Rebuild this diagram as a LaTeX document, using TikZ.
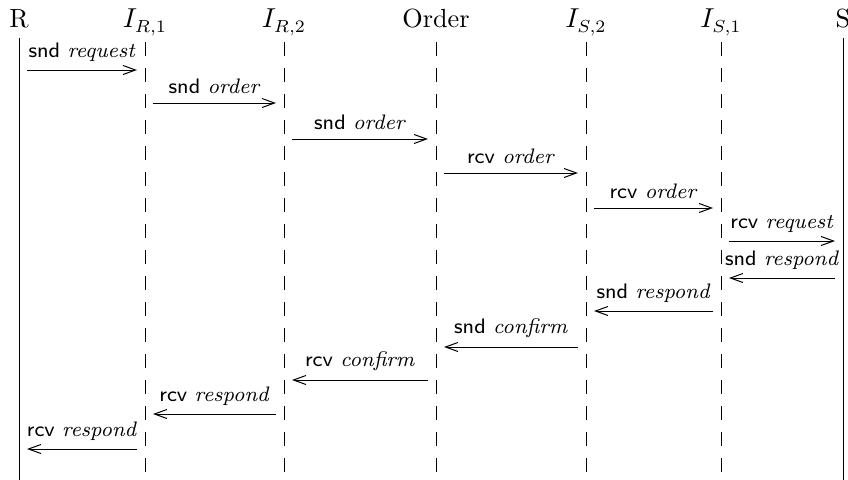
\documentclass[tikz,border=0pt]{standalone}
\usetikzlibrary{arrows.meta}

\begin{document}
\begin{tikzpicture}[
  x=0.4pt,
  y=-0.4pt,
  head/.style={anchor=base, inner sep=0pt, font=\fontsize{10.5}{12}\selectfont},
  solidlife/.style={line width=0.4pt},
  dashlife/.style={line width=0.4pt, dash pattern=on 5.6pt off 4.8pt},
  msg/.style={
    line width=0.4pt,
    -{Straight Barb[length=5pt,width=3.6pt]},
    shorten >=3.2pt,
    shorten <=3.2pt,
  },
  lbl/.style={above, font=\fontsize{8.4}{10}\selectfont},
]
  \useasboundingbox (0,0) rectangle (848,480);

  % Participants
  \node[head] (R)     at (19,28)  {R};
  \node[head] (IR1)   at (145,28) {$I_{R,1}$};
  \node[head] (IR2)   at (284,28) {$I_{R,2}$};
  \node[head] (Order) at (436,28) {Order};
  \node[head] (IS2)   at (586,28) {$I_{S,2}$};
  \node[head] (IS1)   at (721,28) {$I_{S,1}$};
  \node[head] (S)     at (843,28) {S};

  \coordinate (top) at (0,38);
  \coordinate (dtop) at (0,42);
  \coordinate (bot) at (0,480);

  % Lifelines
  \draw[solidlife] (R |- top) -- (R |- bot);
  \draw[solidlife] (S |- top) -- (S |- bot);
  \draw[dashlife] (IR1 |- dtop) -- (IR1 |- bot);
  \draw[dashlife] (IR2 |- dtop) -- (IR2 |- bot);
  \draw[dashlife] (Order |- dtop) -- (Order |- bot);
  \draw[dashlife] (IS2 |- dtop) -- (IS2 |- bot);
  \draw[dashlife] (IS1 |- dtop) -- (IS1 |- bot);

  % Request path
  \draw[msg] (R |- 0,70) -- node[lbl] {\textsf{snd} \textit{request}} (IR1 |- 0,70);
  \draw[msg] (IR1 |- 0,103) -- node[lbl] {\textsf{snd} \textit{order}} (IR2 |- 0,103);
  \draw[msg] (IR2 |- 0,139) -- node[lbl] {\textsf{snd} \textit{order}} (Order |- 0,139);
  \draw[msg] (Order |- 0,173) -- node[lbl] {\textsf{rcv} \textit{order}} (IS2 |- 0,173);
  \draw[msg] (IS2 |- 0,208) -- node[lbl] {\textsf{rcv} \textit{order}} (IS1 |- 0,208);
  \draw[msg] (IS1 |- 0,241) -- node[lbl] {\textsf{rcv} \textit{request}} (S |- 0,241);

  % Response path
  \draw[msg] (S |- 0,278) -- node[lbl] {\textsf{snd} \textit{respond}} (IS1 |- 0,278);
  \draw[msg] (IS1 |- 0,311) -- node[lbl] {\textsf{snd} \textit{respond}} (IS2 |- 0,311);
  \draw[msg] (IS2 |- 0,347) -- node[lbl] {\textsf{snd} \textit{confirm}} (Order |- 0,347);
  \draw[msg] (Order |- 0,380) -- node[lbl] {\textsf{rcv} \textit{confirm}} (IR2 |- 0,380);
  \draw[msg] (IR2 |- 0,414) -- node[lbl] {\textsf{rcv} \textit{respond}} (IR1 |- 0,414);
  \draw[msg] (IR1 |- 0,449) -- node[lbl] {\textsf{rcv} \textit{respond}} (R |- 0,449);
\end{tikzpicture}
\end{document}
